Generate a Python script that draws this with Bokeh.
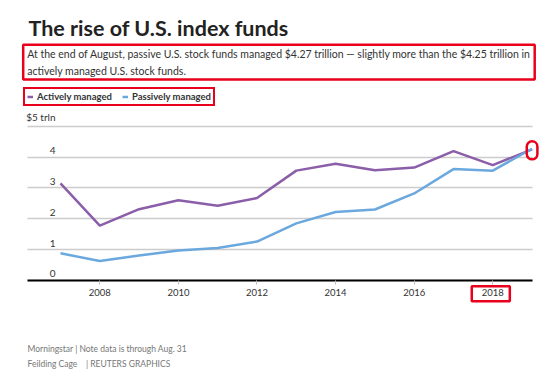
from bokeh.plotting import figure
from bokeh.models import Range1d, FixedTicker, Label, Legend, LegendItem, LinearAxis, Grid
from bokeh.core.properties import value
from bokeh.embed import file_html
from bokeh.resources import INLINE

# ---- data ----
years = [2007, 2008, 2009, 2010, 2011, 2012, 2013, 2014, 2015, 2016, 2017, 2018, 2019]
active = [3.15, 1.78, 2.31, 2.60, 2.42, 2.67, 3.56, 3.78, 3.57, 3.66, 4.19, 3.74, 4.25]
passive = [0.88, 0.63, 0.81, 0.97, 1.05, 1.26, 1.85, 2.22, 2.30, 2.82, 3.61, 3.56, 4.27]
x_ticks = [2008, 2010, 2012, 2014, 2016, 2018]
y_ticks = [0, 1, 2, 3, 4, 5]
y_tick_labels = ["0", "1", "2", "3", "4", "$5 trln"]
series_names = ["Actively managed", "Passively managed"]
x_extent = (2006.16, 2019.0)   # horizontal extent of the chart area

title = "The rise of U.S. index funds"
subtitle = ("At the end of August, passive U.S. stock funds managed $4.27 trillion \u2014 slightly more than the $4.25 trillion in\n"
            "actively managed U.S. stock funds.")
foot1 = "Morningstar | Note data is through Aug. 31"
foot2 = "Feilding Cage\u2003 | REUTERS GRAPHICS"

FONT = "Lato"
PURPLE = "#8a5ea8"
BLUE = "#6aa8de"
RED = "#e8001c"

W, H = 560, 373
p = figure(width=W, height=H, output_backend="svg", toolbar_location=None,
           x_range=Range1d(2005.473, 2019.723), y_range=Range1d(-3.014, 9.073),
           x_axis_location=None, y_axis_location=None,
           min_border=0, min_border_left=0, min_border_right=0,
           min_border_top=0, min_border_bottom=0)
p.title.visible = False
p.outline_line_color = None
p.background_fill_color = "white"
p.border_fill_color = "white"

# grid (horizontal lines only, limited to chart extent)
p.xgrid.grid_line_color = None
p.ygrid.grid_line_color = None
grid = Grid(dimension=1, ticker=FixedTicker(ticks=y_ticks), bounds=(y_ticks[0], y_ticks[-1]),
            cross_bounds=x_extent, grid_line_color="#cccccc", grid_line_width=1.5)
p.add_layout(grid)

# x axis fixed at zero
xa = LinearAxis(fixed_location=0, bounds=x_extent, ticker=FixedTicker(ticks=x_ticks))
xa.axis_line_color = "black"
xa.axis_line_width = 2
xa.major_tick_line_color = "#bbbbbb"
xa.major_tick_in = 0
xa.major_tick_out = 4
xa.minor_tick_line_color = None
xa.major_label_text_font = FONT
xa.major_label_text_font_size = "9.5px"
xa.major_label_text_color = "#333333"
xa.major_label_standoff = 5
p.add_layout(xa, "below")

# y tick labels inside the chart
p.text(x=[x_extent[0]] * len(y_ticks), y=y_ticks, text=y_tick_labels,
       x_offset=28, y_offset=-3, text_align="right", text_baseline="bottom",
       text_font=value(FONT), text_font_size="10px", text_color="#333333")

# lines
r_act = p.line(years, active, line_color=PURPLE, line_width=2.5)
r_pas = p.line(years, passive, line_color=BLUE, line_width=2.5)

legend = Legend(items=[LegendItem(label=series_names[0], renderers=[r_act]),
                       LegendItem(label=series_names[1], renderers=[r_pas])],
                orientation="horizontal", location=(23, 267),
                glyph_width=6, glyph_height=9, label_height=9,
                label_standoff=4, spacing=10, padding=2, margin=0,
                label_text_font=FONT, label_text_font_size="9.5px",
                label_text_font_style="bold", label_text_color="#333333",
                border_line_color=RED, border_line_width=2.5, border_line_alpha=1.0,
                background_fill_alpha=0)
p.add_layout(legend, "center")

# texts
p.add_layout(Label(x=28, y=H - 27.5, x_units="screen", y_units="screen", text=title,
                   text_font=FONT, text_font_size="21.5px", text_font_style="bold",
                   text_color="#222222", text_baseline="middle"))
p.add_layout(Label(x=22.7, y=H - 44.3, x_units="screen", y_units="screen", text=subtitle,
                   text_font=FONT, text_font_size="10.5px", text_color="#333333",
                   text_baseline="top", text_line_height=1.4,
                   border_line_color=RED, border_line_width=2.5,
                   padding=dict(left=4, right=4, top=3, bottom=3)))
p.add_layout(Label(x=27, y=H - 348, x_units="screen", y_units="screen", text=foot1,
                   text_font=FONT, text_font_size="8.5px", text_color="#777777",
                   text_baseline="middle"))
p.add_layout(Label(x=27, y=H - 363, x_units="screen", y_units="screen", text=foot2,
                   text_font=FONT, text_font_size="8.5px", text_color="#777777",
                   text_baseline="middle"))

# red highlight marks
p.add_layout(Label(x=x_ticks[-1], y=H - 293.3, x_units="data", y_units="screen", text=str(x_ticks[-1]),
                   x_offset=-2,
                   text_font=FONT, text_font_size="9.5px", text_alpha=0.01,
                   text_align="center", text_baseline="middle",
                   border_line_color=RED, border_line_width=2.5,
                   padding=dict(left=8, right=8, top=4, bottom=4)))
p.add_layout(Label(x=years[-1], y=active[-1], text="0", y_offset=-1,
                   text_font=FONT, text_font_size="8px", text_alpha=0.01,
                   text_align="center", text_baseline="middle",
                   border_line_color=RED, border_line_width=2.5, border_radius=6,
                   padding=dict(left=3, right=3, top=6, bottom=6)))

open("out.html", "w").write(file_html(p, INLINE))
